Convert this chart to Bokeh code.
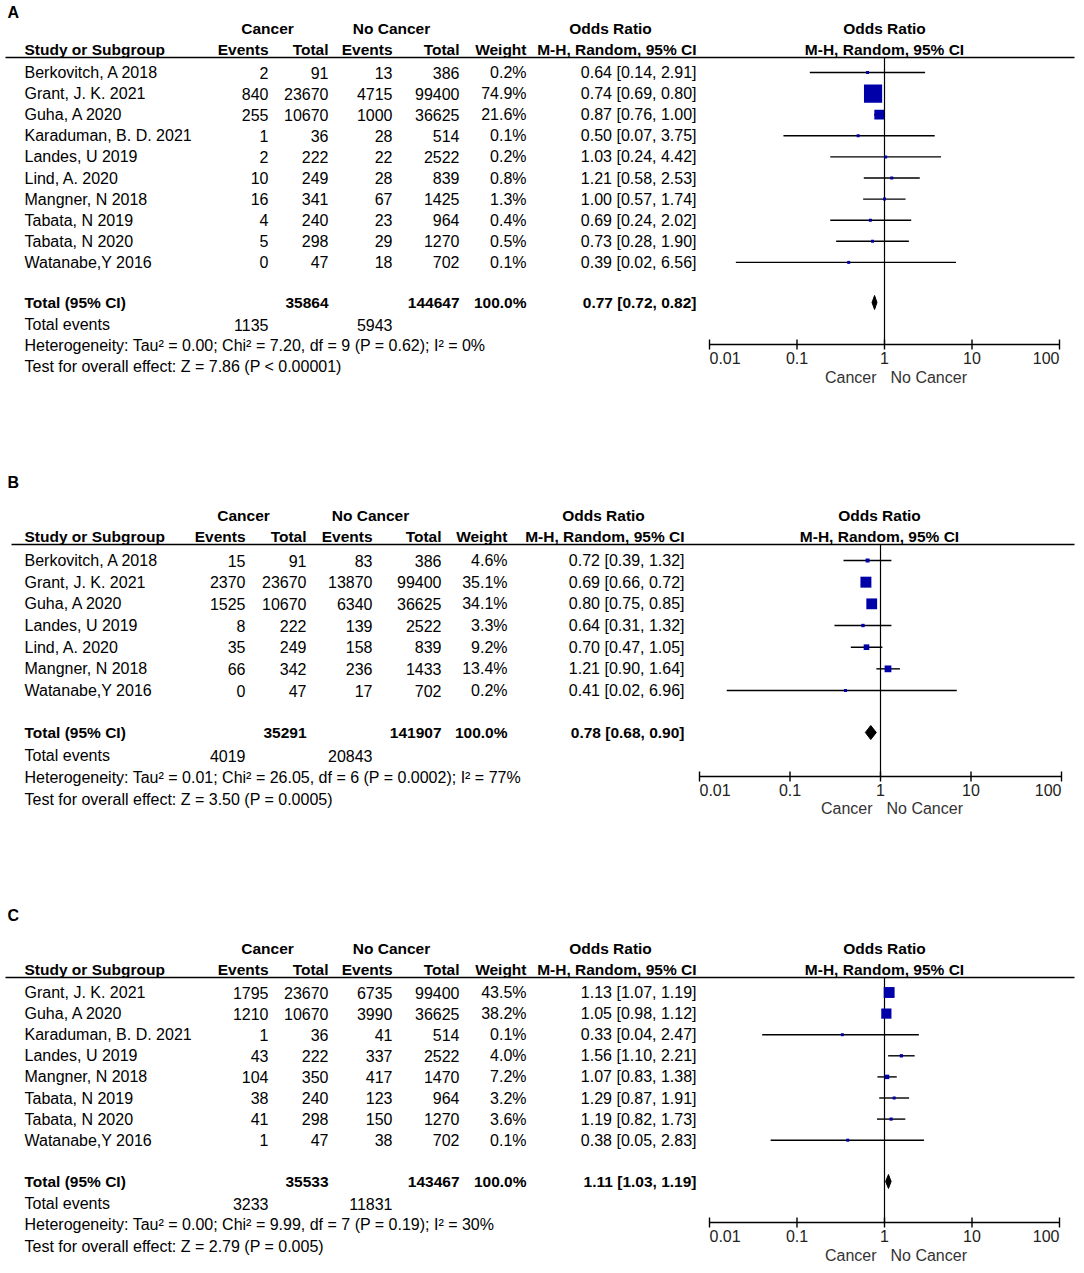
import math
from bokeh.plotting import figure
from bokeh.models import Range1d, LogScale, ColumnDataSource
from bokeh.embed import file_html
from bokeh.resources import INLINE
from bokeh.core.properties import value

# ---------------- DATA ----------------
A_studies = ["Berkovitch, A 2018", "Grant, J. K. 2021", "Guha, A 2020", "Karaduman, B. D. 2021",
             "Landes, U 2019", "Lind, A. 2020", "Mangner, N 2018", "Tabata, N 2019",
             "Tabata, N 2020", "Watanabe,Y 2016"]
A_can_events = [2, 840, 255, 1, 2, 10, 16, 4, 5, 0]
A_can_total = [91, 23670, 10670, 36, 222, 249, 341, 240, 298, 47]
A_no_events = [13, 4715, 1000, 28, 22, 28, 67, 23, 29, 18]
A_no_total = [386, 99400, 36625, 514, 2522, 839, 1425, 964, 1270, 702]
A_weight = [0.2, 74.9, 21.6, 0.1, 0.2, 0.8, 1.3, 0.4, 0.5, 0.1]
A_or = [0.64, 0.74, 0.87, 0.50, 1.03, 1.21, 1.00, 0.69, 0.73, 0.39]
A_lo = [0.14, 0.69, 0.76, 0.07, 0.24, 0.58, 0.57, 0.24, 0.28, 0.02]
A_hi = [2.91, 0.80, 1.00, 3.75, 4.42, 2.53, 1.74, 2.02, 1.90, 6.56]
A_total = [35864, 144647]
A_total_events = [1135, 5943]
A_pooled = [0.77, 0.72, 0.82]
A_het = "Heterogeneity: Tau\u00b2 = 0.00; Chi\u00b2 = 7.20, df = 9 (P = 0.62); I\u00b2 = 0%"
A_test = "Test for overall effect: Z = 7.86 (P < 0.00001)"

B_studies = ["Berkovitch, A 2018", "Grant, J. K. 2021", "Guha, A 2020", "Landes, U 2019",
             "Lind, A. 2020", "Mangner, N 2018", "Watanabe,Y 2016"]
B_can_events = [15, 2370, 1525, 8, 35, 66, 0]
B_can_total = [91, 23670, 10670, 222, 249, 342, 47]
B_no_events = [83, 13870, 6340, 139, 158, 236, 17]
B_no_total = [386, 99400, 36625, 2522, 839, 1433, 702]
B_weight = [4.6, 35.1, 34.1, 3.3, 9.2, 13.4, 0.2]
B_or = [0.72, 0.69, 0.80, 0.64, 0.70, 1.21, 0.41]
B_lo = [0.39, 0.66, 0.75, 0.31, 0.47, 0.90, 0.02]
B_hi = [1.32, 0.72, 0.85, 1.32, 1.05, 1.64, 6.96]
B_total = [35291, 141907]
B_total_events = [4019, 20843]
B_pooled = [0.78, 0.68, 0.90]
B_het = "Heterogeneity: Tau\u00b2 = 0.01; Chi\u00b2 = 26.05, df = 6 (P = 0.0002); I\u00b2 = 77%"
B_test = "Test for overall effect: Z = 3.50 (P = 0.0005)"

C_studies = ["Grant, J. K. 2021", "Guha, A 2020", "Karaduman, B. D. 2021", "Landes, U 2019",
             "Mangner, N 2018", "Tabata, N 2019", "Tabata, N 2020", "Watanabe,Y 2016"]
C_can_events = [1795, 1210, 1, 43, 104, 38, 41, 1]
C_can_total = [23670, 10670, 36, 222, 350, 240, 298, 47]
C_no_events = [6735, 3990, 41, 337, 417, 123, 150, 38]
C_no_total = [99400, 36625, 514, 2522, 1470, 964, 1270, 702]
C_weight = [43.5, 38.2, 0.1, 4.0, 7.2, 3.2, 3.6, 0.1]
C_or = [1.13, 1.05, 0.33, 1.56, 1.07, 1.29, 1.19, 0.38]
C_lo = [1.07, 0.98, 0.04, 1.10, 0.83, 0.87, 0.82, 0.05]
C_hi = [1.19, 1.12, 2.47, 2.21, 1.38, 1.91, 1.73, 2.83]
C_total = [35533, 143467]
C_total_events = [3233, 11831]
C_pooled = [1.11, 1.03, 1.19]
C_het = "Heterogeneity: Tau\u00b2 = 0.00; Chi\u00b2 = 9.99, df = 7 (P = 0.19); I\u00b2 = 30%"
C_test = "Test for overall effect: Z = 2.79 (P = 0.005)"

axis_ticks = [0.01, 0.1, 1, 10, 100]
axis_tick_labels = ["0.01", "0.1", "1", "10", "100"]

# ---------------- FIGURE ----------------
FONT = "Liberation Sans"
REG = "16px"
BOLD = "15.5px"
W, H = 1078, 1266
X0, Y0 = 1, 1
p = figure(width=W, height=H, output_backend="svg", toolbar_location=None,
           x_range=Range1d(X0, X0 + W), y_range=Range1d(Y0 + H, Y0),
           x_axis_location=None, y_axis_location=None, min_border=0)
p.grid.visible = False
p.outline_line_color = None


def log_range(x_001, x_100):
    ppd = (x_100 - x_001) / 4.0
    lo = -2 - (x_001 - X0) / ppd
    hi = 2 + (X0 + W - x_100) / ppd
    return Range1d(10 ** lo, 10 ** hi)


p.extra_x_ranges = {"fA": log_range(710, 1060), "fB": log_range(700, 1062), "fC": log_range(710, 1060)}
p.extra_x_scales = {"fA": LogScale(), "fB": LogScale(), "fC": LogScale()}


def txt(xs, ys, texts, align="left", bold=False, color="#000000", size=None, rng=None, xoff=0):
    src = ColumnDataSource(dict(x=list(xs), y=list(ys), t=list(texts)))
    kw = {}
    if rng:
        kw["x_range_name"] = rng
    if size is None:
        size = BOLD if bold else REG
    p.text("x", "y", "t", source=src, text_align=align, text_baseline="middle",
           text_font=value(FONT), text_font_size=size,
           text_font_style="bold" if bold else "normal", text_color=color, x_offset=xoff, **kw)


def panel(letter, L, studies, ce, ct, ne, nt, wt, orv, lo, hi, tot, tev, pooled, het, test, rng):
    n = len(studies)
    ys = [L["row0"] + i * L["step"] for i in range(n)]
    # panel letter
    txt([8], [L["letter"]], [letter], bold=True, size="16px")
    # headers
    txt([L["cc"], L["cn"], L["cor"], L["cf"]], [L["h1"]] * 4,
        ["Cancer", "No Cancer", "Odds Ratio", "Odds Ratio"], align="center", bold=True)
    txt([25], [L["h2"]], ["Study or Subgroup"], bold=True)
    txt([L["ce"], L["ct"], L["ne"], L["nt"], L["w"], L["or"]], [L["h2"]] * 6,
        ["Events", "Total", "Events", "Total", "Weight", "M-H, Random, 95% CI"], align="right", bold=True)
    txt([L["cf"]], [L["h2"]], ["M-H, Random, 95% CI"], align="center", bold=True)
    p.segment(x0=[L["line0"]], x1=[1075], y0=[L["hline"]], y1=[L["hline"]], line_color="#000000", line_width=1.3)
    # rows
    txt([25] * n, ys, studies)
    txt([L["ce"]] * n, ys, [str(v) for v in ce], align="right")
    txt([L["ct"]] * n, ys, [str(v) for v in ct], align="right")
    txt([L["ne"]] * n, ys, [str(v) for v in ne], align="right")
    txt([L["nt"]] * n, ys, [str(v) for v in nt], align="right")
    txt([L["w"]] * n, ys, ["%.1f%%" % v for v in wt], align="right")
    txt([L["or"]] * n, ys, ["%.2f [%.2f, %.2f]" % (a, b, c) for a, b, c in zip(orv, lo, hi)], align="right")
    # totals
    yt = L["tot"]
    txt([25], [yt], ["Total (95% CI)"], bold=True)
    txt([L["ct"], L["nt"], L["w"], L["or"]], [yt] * 4,
        [str(tot[0]), str(tot[1]), "100.0%", "%.2f [%.2f, %.2f]" % tuple(pooled)], align="right", bold=True)
    txt([25], [L["ev"]], ["Total events"])
    txt([L["ce"], L["ne"]], [L["ev"]] * 2, [str(tev[0]), str(tev[1])], align="right")
    txt([25, 25], [L["het"], L["test"]], [het, test])
    # forest: vertical line at 1
    p.segment(x0=[1], x1=[1], y0=[L["hline"]], y1=[L["axis"]], x_range_name=rng,
              line_color="#000000", line_width=1.2)
    # CIs
    p.segment(x0=lo, x1=hi, y0=ys, y1=ys, x_range_name=rng, line_color="#000000", line_width=1.4)
    sizes = [max(3.0, L["k"] * math.sqrt(v)) for v in wt]
    p.scatter(x=orv, y=ys, size=sizes, marker="square", x_range_name=rng,
              fill_color="#0000A8", line_color=None)
    # diamond
    dh = 7
    p.patch(x=[pooled[1], pooled[0], pooled[2], pooled[0]], y=[yt, yt - dh, yt, yt + dh],
            x_range_name=rng, fill_color="#000000", line_color="#000000", line_width=1)
    # axis
    ya = L["axis"]
    p.segment(x0=[axis_ticks[0]], x1=[axis_ticks[-1]], y0=[ya], y1=[ya], x_range_name=rng,
              line_color="#000000", line_width=1.4)
    p.segment(x0=axis_ticks, x1=axis_ticks, y0=[ya - 5] * 5, y1=[ya + 5] * 5, x_range_name=rng,
              line_color="#000000", line_width=1.4)
    aligns = ["left", "center", "center", "center", "right"]
    for tv, tl, al in zip(axis_ticks, axis_tick_labels, aligns):
        txt([tv], [L["tl"]], [tl], align=al, color="#222222", rng=rng)
    txt([1], [L["cl"]], ["Cancer"], align="right", color="#333333", rng=rng, xoff=-8)
    txt([1], [L["cl"]], ["No Cancer"], align="left", color="#333333", rng=rng, xoff=6)


LA = dict(letter=13, h1=29, h2=50, hline=58, row0=73, step=21.1, tot=303, ev=325, het=346, test=367,
          axis=345, tl=358, cl=378, cc=268, cn=392, cor=611, cf=885, ce=269, ct=329, ne=393, nt=460,
          w=527, line0=6, k=2.1)
LB = dict(letter=483, h1=516, h2=537, hline=545, row0=561, step=21.67, tot=733, ev=756, het=778, test=800,
          axis=777, tl=790, cl=809, cc=244, cn=371, cor=604, cf=880, ce=246, ct=307, ne=373, nt=442,
          w=508, line0=12, k=1.85)
LC = dict(letter=916, h1=949, h2=970, hline=978, row0=993, step=21.1, tot=1182, ev=1204, het=1225, test=1247,
          axis=1223, tl=1236, cl=1256, cc=268, cn=392, cor=611, cf=885, ce=269, ct=329, ne=393, nt=460,
          w=527, line0=6, k=1.65)
LA["or"] = 697
LB["or"] = 685
LC["or"] = 697

panel("A", LA, A_studies, A_can_events, A_can_total, A_no_events, A_no_total, A_weight, A_or, A_lo, A_hi,
      A_total, A_total_events, A_pooled, A_het, A_test, "fA")
panel("B", LB, B_studies, B_can_events, B_can_total, B_no_events, B_no_total, B_weight, B_or, B_lo, B_hi,
      B_total, B_total_events, B_pooled, B_het, B_test, "fB")
panel("C", LC, C_studies, C_can_events, C_can_total, C_no_events, C_no_total, C_weight, C_or, C_lo, C_hi,
      C_total, C_total_events, C_pooled, C_het, C_test, "fC")

open("out.html", "w").write(file_html(p, INLINE))
